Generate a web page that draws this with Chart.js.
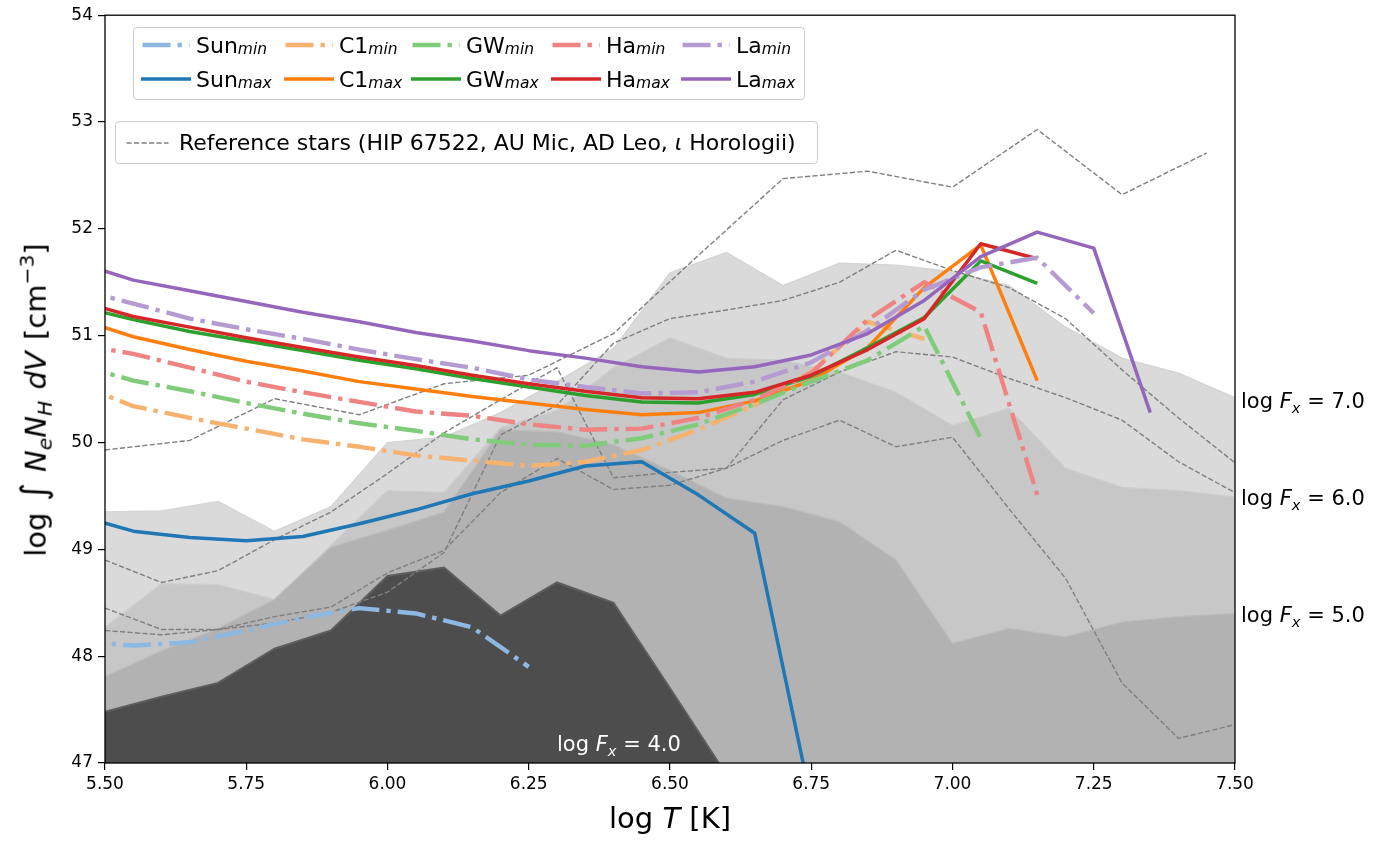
<!DOCTYPE html>
<html>
<head>
<meta charset="utf-8">
<script src="https://cdn.jsdelivr.net/npm/chart.js@4.4.1/dist/chart.umd.min.js"></script>
<style>
    html, body { margin: 0; padding: 0; background: #fff; }
    #wrap { position: relative; width: 1395px; height: 842px; font-family: "DejaVu Sans", sans-serif; color: #000; overflow: hidden; }
    #chart { position: absolute; left: 0; top: 0; }
    .box { position: absolute; background: rgba(255, 255, 255, 0.8); border: 1px solid #cccccc; border-radius: 4px; box-sizing: border-box; }
    #legModels { left: 133px; top: 27px; width: 672px; height: 73px; display: grid;
        grid-template-columns: 143px 127px 140px 130px auto; grid-auto-rows: 34px; padding: 0 0 0 7px; }
    #legStars { left: 115px; top: 121px; width: 703px; height: 43px; display: flex; align-items: center; padding-left: 9px; }
    .item { display: flex; align-items: center; font-size: 22px; white-space: nowrap; }
    .item svg { flex: none; margin-right: 5px; }
    .sub { font-size: 15.5px; font-style: italic; position: relative; top: 4px; }
    .lbl { position: absolute; font-size: 21px; white-space: nowrap; transform: translateY(-50%); }
    .title { position: absolute; font-size: 29px; white-space: nowrap; }
    i { font-style: italic; }
    .ms { font-size: 0.7em; position: relative; }
</style>
</head>
<body>
<div id="wrap">
    <canvas id="chart" width="1395" height="842"></canvas>
    <div id="legModels" class="box"></div>
    <div id="legStars" class="box"></div>
    <div id="fx7" class="lbl">log <i>F</i><span class="ms" style="top:5px"><i>x</i></span> = 7.0</div>
    <div id="fx6" class="lbl">log <i>F</i><span class="ms" style="top:5px"><i>x</i></span> = 6.0</div>
    <div id="fx5" class="lbl">log <i>F</i><span class="ms" style="top:5px"><i>x</i></span> = 5.0</div>
    <div id="fx4" class="lbl" style="color:#fff">log <i>F</i><span class="ms" style="top:5px"><i>x</i></span> = 4.0</div>
    <div id="xtitle" class="title">log <i>T</i> [K]</div>
    <div id="ytitle" class="title" style="word-spacing:2px">log <span style="font-size:1.2em">∫</span> <i>N</i><span class="ms" style="top:6px"><i>e</i></span><i>N</i><span class="ms" style="top:6px"><i>H</i></span> <i>dV</i> [cm<span class="ms" style="top:-12px">−3</span>]</div>
</div>
<script>
// temperature grids
const logT_model = [5.45, 5.55, 5.65, 5.75, 5.85, 5.95, 6.05, 6.15, 6.25, 6.35,
                    6.45, 6.55, 6.65, 6.75, 6.85, 6.95, 7.05, 7.15, 7.25, 7.35];
const logT_grid = [5.5, 5.6, 5.7, 5.8, 5.9, 6.0, 6.1, 6.2, 6.3, 6.4, 6.5,
                   6.6, 6.7, 6.8, 6.9, 7.0, 7.1, 7.2, 7.3, 7.4, 7.5];
const logT_starA = [5.5, 5.65, 5.8, 5.95, 6.1, 6.25, 6.4, 6.55, 6.7, 6.85, 7.0, 7.15, 7.3, 7.45];

// model emission measures (min / max activity)
const sunMin = [48.14, 48.10, 48.13, 48.24, 48.36, 48.45, 48.40, 48.27, 47.90];
const sunMax = [49.32, 49.17, 49.11, 49.08, 49.12, 49.24, 49.37, 49.52, 49.64, 49.78, 49.82, 49.51, 49.15, 46.64];
const c1Min = [50.55, 50.34, 50.23, 50.13, 50.03, 49.96, 49.88, 49.83, 49.78, 49.82, 49.93, 50.12, 50.35, 50.66, 51.13, 50.97];
const c1Max = [51.16, 50.99, 50.87, 50.76, 50.67, 50.57, 50.50, 50.43, 50.37, 50.31, 50.26, 50.28, 50.39, 50.58, 50.89, 51.45, 51.85, 50.58];
const gwMin = [50.73, 50.58, 50.48, 50.37, 50.27, 50.18, 50.11, 50.03, 49.98, 49.97, 50.04, 50.17, 50.36, 50.57, 50.77, 51.09, 50.04];
const gwMax = [51.28, 51.15, 51.04, 50.95, 50.86, 50.77, 50.69, 50.60, 50.52, 50.44, 50.38, 50.37, 50.45, 50.62, 50.89, 51.17, 51.70, 51.49];
const haMin = [50.92, 50.83, 50.70, 50.57, 50.47, 50.38, 50.29, 50.25, 50.17, 50.12, 50.13, 50.23, 50.40, 50.65, 51.15, 51.50, 51.22, 49.51];
const haMax = [51.33, 51.18, 51.08, 50.98, 50.89, 50.80, 50.72, 50.63, 50.55, 50.48, 50.42, 50.41, 50.47, 50.63, 50.87, 51.16, 51.86, 51.72];
const laMin = [51.44, 51.30, 51.16, 51.06, 50.97, 50.87, 50.78, 50.70, 50.59, 50.52, 50.46, 50.47, 50.57, 50.75, 51.05, 51.43, 51.64, 51.73, 51.21];
const laMax = [51.69, 51.52, 51.42, 51.32, 51.22, 51.13, 51.03, 50.95, 50.86, 50.79, 50.71, 50.66, 50.71, 50.82, 51.02, 51.33, 51.74, 51.97, 51.82, 50.28];

// reference stars
const starA = [49.93, 50.02, 50.41, 50.26, 50.55, 50.63, 51.02, 51.75, 52.47, 52.54, 52.39, 52.93, 52.32, 52.71];
const starB = [48.90, 48.69, 48.80, 49.09, 49.35, 49.71, 50.09, 50.40, 50.70, 49.67, 49.72,
               49.76, 50.40, 50.66, 50.85, 50.80, 50.60, 50.42, 50.21, 49.82, 49.53];
const starC = [48.45, 48.25, 48.25, 48.37, 48.46, 48.78, 48.99, 49.53, 49.85, 49.56, 49.60,
               49.76, 50.02, 50.21, 49.96, 50.05, 49.38, 48.73, 47.75, 47.23, 47.36];
const starD = [48.24, 48.20, 48.25, 48.31, 48.41, 48.60, 48.97, 50.07, 50.35, 50.93, 51.16,
               51.24, 51.33, 51.50, 51.80, 51.61, 51.45, 51.16, 50.68, 50.23, 49.81];

// log F_x = 4..7 envelopes
const fx4 = [47.48, 47.62, 47.75, 48.07, 48.24, 48.75, 48.83, 48.38, 48.69, 48.50, 47.70, 46.89];
const fx5 = [47.81, 48.05, 48.26, 48.53, 49.02, 49.18, 49.35, 50.12, 50.10, 49.98, 49.74,
             49.48, 49.40, 49.26, 48.90, 48.12, 48.26, 48.18, 48.32, 48.37, 48.40];
const fx6 = [48.27, 48.68, 48.67, 48.53, 49.04, 49.55, 49.53, 50.14, 50.30, 50.70, 50.98,
             50.79, 50.77, 50.66, 50.47, 50.16, 50.32, 49.76, 49.58, 49.55, 49.49];
const fx7 = [49.35, 49.36, 49.45, 49.17, 49.40, 50.00, 50.05, 50.28, 50.57, 50.88, 51.59,
             51.78, 51.47, 51.68, 51.66, 51.60, 51.47, 51.08, 50.79, 50.65, 50.42];

const models = ['Sun', 'C1', 'GW', 'Ha', 'La'];
const minSeries = [sunMin, c1Min, gwMin, haMin, laMin];
const maxSeries = [sunMax, c1Max, gwMax, haMax, laMax];
const maxColors = ['#1f77b4', '#ff7f0e', '#2ca02c', '#d62728', '#9467bd'];
const minColors = ['#8cb8e1', '#f6b26f', '#80cc7a', '#ef8383', '#b49bd1'];

const DASHDOT = [28, 7, 4.4, 7];

function pts(xs, ys) {
    const out = [];
    for (let i = 0; i < ys.length; i++) {
        if (ys[i] === null) continue;
        out.push({x: xs[i], y: ys[i]});
    }
    return out;
}

function area(label, ys, fillColor, edgeColor, edgeWidth, order) {
    return {
        label: label,
        data: pts(logT_grid, ys),
        backgroundColor: fillColor,
        borderColor: edgeColor,
        borderWidth: edgeWidth,
        fill: 'start',
        pointRadius: 0,
        order: order
    };
}

function starLine(xs, ys) {
    return {
        label: 'ref',
        data: pts(xs, ys),
        borderColor: '#7f7f7f',
        borderWidth: 1.4,
        borderDash: [5.2, 2.3],
        fill: false,
        pointRadius: 0,
        order: 30
    };
}

const datasets = [
    area('Fx7', fx7, '#dadada', '#d4d4d4', 1.2, 44),
    area('Fx6', fx6, '#c7c7c7', '#cdcdcd', 1.2, 43),
    area('Fx5', fx5, '#b2b2b2', '#bcbcbc', 1.2, 42),
    area('Fx4', fx4, '#4d4d4d', '#5e5e5e', 2, 41),
    starLine(logT_starA, starA),
    starLine(logT_grid, starB),
    starLine(logT_grid, starC),
    starLine(logT_grid, starD)
];

// plotted in order Sun_min, Sun_max, C1_min ... La_max (later ones on top)
for (let i = 0; i < models.length; i++) {
    datasets.push({
        label: models[i] + ' min',
        data: pts(logT_model, minSeries[i]),
        borderColor: minColors[i],
        borderWidth: 4.4,
        borderDash: DASHDOT,
        borderCapStyle: 'butt',
        borderJoinStyle: 'round',
        fill: false,
        pointRadius: 0,
        order: 20 - 2 * i
    });
    datasets.push({
        label: models[i] + ' max',
        data: pts(logT_model, maxSeries[i]),
        borderColor: maxColors[i],
        borderWidth: 3.5,
        borderJoinStyle: 'round',
        fill: false,
        pointRadius: 0,
        order: 19 - 2 * i
    });
}

// legends
function sample(color, width, dash, len) {
    const d = dash ? ` stroke-dasharray="${dash.join(' ')}"` : '';
    const cap = dash ? 'butt' : 'square';
    return `<svg width="${len}" height="22"><line x1="1.5" y1="11" x2="${len - 1.5}" y2="11" stroke="${color}"
            stroke-width="${width}" stroke-linecap="${cap}"${d}/></svg>`;
}

let html = '';
for (let i = 0; i < models.length; i++) {
    html += `<div class="item">${sample(minColors[i], 4.4, DASHDOT, 50)}${models[i]}<span class="sub">min</span></div>`;
}
for (let i = 0; i < models.length; i++) {
    html += `<div class="item">${sample(maxColors[i], 3.5, null, 50)}${models[i]}<span class="sub">max</span></div>`;
}
document.getElementById('legModels').innerHTML = html;
document.getElementById('legStars').innerHTML =
    `<div class="item">${sample('#7f7f7f', 1.4, [5.2, 2.3], 45)}<span style="margin-left:4px">Reference stars (HIP 67522, AU Mic, AD Leo, <i>ι</i> Horologii)</span></div>`;

const framePlugin = {
    id: 'frame',
    afterDatasetsDraw(chart) {
        const {ctx, chartArea: a} = chart;
        ctx.save();
        ctx.strokeStyle = '#000';
        ctx.lineWidth = 1.3;
        ctx.strokeRect(a.left, a.top, a.right - a.left, a.bottom - a.top);
        ctx.restore();
    }
};

const labelPlugin = {
    id: 'labels',
    afterDraw(chart) {
        const xs = chart.scales.x, ys = chart.scales.y, a = chart.chartArea;
        const put = (id, left, top) => {
            const el = document.getElementById(id);
            el.style.left = left + 'px';
            el.style.top = top + 'px';
        };
        put('fx7', a.right + 6, ys.getPixelForValue(fx7[fx7.length - 1]) + 3);
        put('fx6', a.right + 6, ys.getPixelForValue(fx6[fx6.length - 1]) + 1);
        put('fx5', a.right + 6, ys.getPixelForValue(fx5[fx5.length - 1]) + 2);
        put('fx4', xs.getPixelForValue(6.3), ys.getPixelForValue(47.18));

        const xt = document.getElementById('xtitle');
        xt.style.left = ((a.left + a.right) / 2 - xt.offsetWidth / 2) + 'px';
        xt.style.top = '801px';
        const yt = document.getElementById('ytitle');
        yt.style.left = (33 - yt.offsetWidth / 2) + 'px';
        yt.style.top = (400 - yt.offsetHeight / 2) + 'px';
        yt.style.transform = 'rotate(-90deg)';
    }
};

new Chart(document.getElementById('chart'), {
    type: 'line',
    data: {datasets: datasets},
    options: {
        responsive: false,
        animation: false,
        events: [],
        devicePixelRatio: 1,
        layout: {padding: {top: 15, right: 160, left: 0, bottom: 0}},
        plugins: {legend: {display: false}, tooltip: {enabled: false}},
        scales: {
            x: {
                type: 'linear',
                min: 5.5,
                max: 7.5,
                afterFit: s => { s.height = 79; },
                border: {display: false},
                grid: {drawOnChartArea: false, drawTicks: true, tickLength: 7, color: '#000', lineWidth: 1.2},
                ticks: {
                    stepSize: 0.25,
                    color: '#000',
                    padding: 4,
                    maxRotation: 0,
                    font: {family: 'DejaVu Sans', size: 17},
                    callback: v => v.toFixed(2)
                }
            },
            y: {
                type: 'linear',
                min: 47,
                max: 54,
                afterFit: s => { s.width = 105; },
                border: {display: false},
                grid: {drawOnChartArea: false, drawTicks: true, tickLength: 7, color: '#000', lineWidth: 1.2},
                ticks: {
                    stepSize: 1,
                    color: '#000',
                    padding: 5,
                    font: {family: 'DejaVu Sans', size: 17},
                    callback: v => v.toFixed(0)
                }
            }
        }
    },
    plugins: [framePlugin, labelPlugin]
});
</script>
</body>
</html>
